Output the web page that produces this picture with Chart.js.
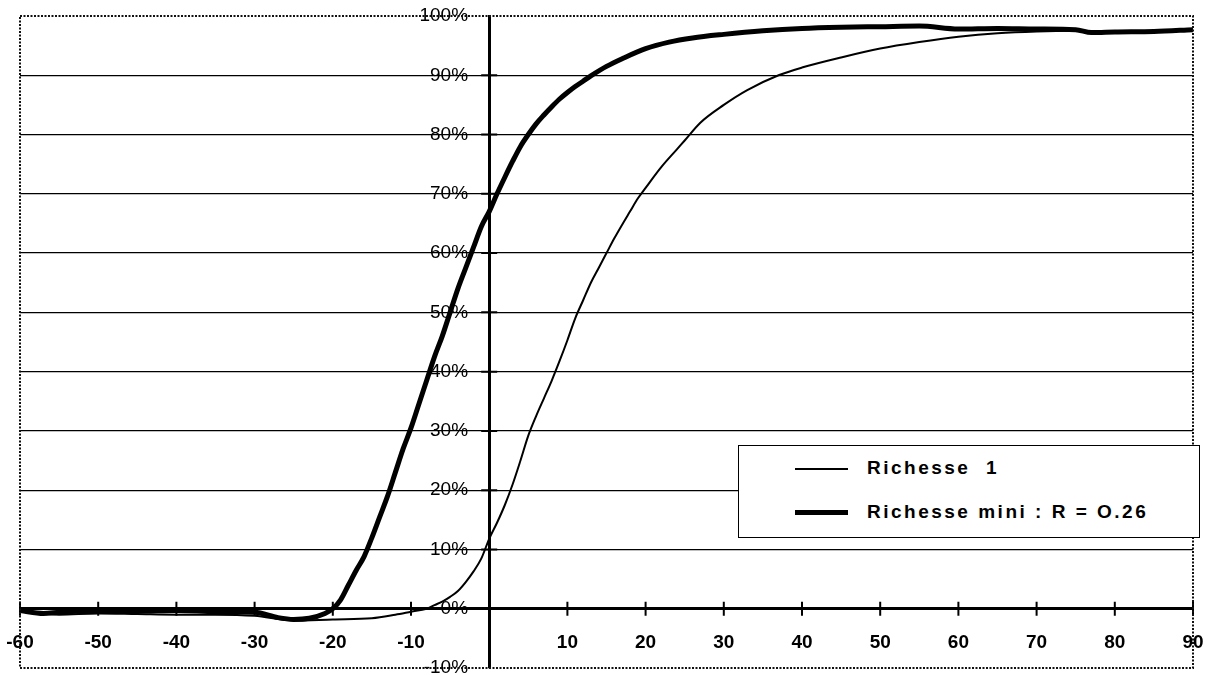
<!DOCTYPE html>
<html>
<head>
<meta charset="utf-8">
<script src="https://cdn.jsdelivr.net/npm/chart.js@4.4.1/dist/chart.umd.min.js"></script>
<style>
    html, body { margin: 0; padding: 0; background: #fff; }
    #wrap { position: relative; width: 1213px; height: 675px; }
    #legendBox {
        position: absolute; left: 738px; top: 445px; width: 462px; height: 93px;
        box-sizing: border-box; border: 1.5px solid #000; background: #fff;
        font: bold 19px "Liberation Sans", Arial, Helvetica, sans-serif; letter-spacing: 2.5px; color: #000;
    }
    .swatch { position: absolute; left: 56px; width: 53px; background: #000; }
    .label { position: absolute; left: 128px; line-height: 22px; white-space: pre; }
</style>
</head>
<body>
<div id="wrap">
    <canvas id="chart" width="1213" height="675"></canvas>
    <div id="legendBox">
        <div class="swatch" style="top:22px;height:2px;"></div>
        <div class="label" style="top:11px;">Richesse  1</div>
        <div class="swatch" style="top:64px;height:5px;"></div>
        <div class="label" style="top:55px;">Richesse mini : R = O.26</div>
    </div>
</div>
<script>
// x axis (degrees) and y axis (%) ticks
const xTicks = [-60, -50, -40, -30, -20, -10, 0, 10, 20, 30, 40, 50, 60, 70, 80, 90];
const yTicks = [-10, 0, 10, 20, 30, 40, 50, 60, 70, 80, 90, 100];

// Richesse 1 (thin line)
const richesse1X = [-60, -55, -50, -45, -40, -35, -30, -25, -20, -15, -12, -10, -8, -7, -6, -5, -4, -3, -2, -1,
    0, 1, 2, 3, 4, 5, 6, 7, 8, 9, 10, 11, 12, 13, 14, 15, 16, 17, 18, 19, 20, 22, 24, 25, 27, 30, 33, 37, 40,
    45, 50, 55, 60, 65, 70, 75, 80, 85, 90];
const richesse1Y = [-0.3, -1.0, -0.8, -0.9, -1.0, -1.0, -1.2, -2.0, -1.8, -1.6, -1.0, -0.5, 0, 0.6, 1.2, 2.0, 3.0, 4.5, 6.3, 8.5,
    11.8, 14.5, 17.5, 21, 25, 29.2, 32.5, 35.5, 38.5, 41.8, 45.3, 49, 52, 55, 57.5, 60, 62.5, 64.8, 67, 69.2, 71, 74.5, 77.5, 79, 82, 85, 87.5, 90, 91.3,
    93, 94.5, 95.6, 96.5, 97.1, 97.4, 97.5, 97.4, 97.4, 97.7];

// Richesse mini : R = 0.26 (thick line)
const richesseMiniX = [-60, -57, -55, -52, -50, -45, -40, -35, -30, -27, -25, -23, -21, -20, -19, -18, -17, -16, -15, -14, -13, -12, -11,
    -10, -9, -8, -7, -6, -5, -4, -3, -2, -1, 0, 1, 2, 3, 4, 5, 6, 7, 8, 9, 10, 11, 12, 13, 15, 17, 20, 23, 26, 30,
    35, 40, 45, 50, 55, 60, 65, 70, 75, 77, 80, 85, 90];
const richesseMiniY = [-0.3, -0.8, -0.6, -0.4, -0.3, -0.4, -0.3, -0.5, -0.6, -1.5, -1.8, -1.6, -0.8, 0, 1.5, 4, 6.5, 8.8, 12, 15.5, 19, 23, 27,
    30.5, 34.5, 38.5, 42.5, 46, 50, 54, 57.5, 61, 64.5, 67, 70, 72.8, 75.5, 78, 80, 81.8, 83.3, 84.7, 86, 87.1, 88.1, 89, 89.9, 91.5, 92.8, 94.5, 95.6, 96.3, 96.9,
    97.5, 97.9, 98.1, 98.2, 98.3, 97.8, 97.9, 97.8, 97.7, 97.2, 97.3, 97.4, 97.7];

const toPoints = (xs, ys) => xs.map((x, i) => ({ x: x, y: ys[i] }));

const fontFamily = '"Liberation Sans", Arial, Helvetica, sans-serif';

// axes sit inside the plot, so they must not push the plot area in
function noPadding(scale) {
    scale.paddingLeft = 0;
    scale.paddingRight = 0;
    scale.paddingTop = 0;
    scale.paddingBottom = 0;
}

// dotted frame round the plot area, like the scanned original
const framePlugin = {
    id: "frame",
    beforeDraw(chart) {
        const ctx = chart.ctx;
        ctx.save();
        ctx.fillStyle = "#fff";
        ctx.fillRect(0, 0, chart.width, chart.height);
        ctx.restore();
    },
    afterDraw(chart) {
        const { ctx, chartArea: a } = chart;
        ctx.save();
        ctx.strokeStyle = "#111";
        ctx.lineWidth = 2;
        ctx.setLineDash([2, 1.5]);
        ctx.strokeRect(a.left, a.top, a.right - a.left, a.bottom - a.top);
        ctx.restore();
    }
};

// tick marks crossing both axes
const crossTicksPlugin = {
    id: "crossTicks",
    afterDatasetsDraw(chart) {
        const { ctx, scales } = chart;
        const x0 = scales.x.getPixelForValue(0);
        const y0 = scales.y.getPixelForValue(0);
        ctx.save();
        ctx.strokeStyle = "#000";
        ctx.lineWidth = 2;
        ctx.beginPath();
        xTicks.forEach(v => {
            const px = scales.x.getPixelForValue(v);
            ctx.moveTo(px, y0 - 7);
            ctx.lineTo(px, y0 + 7);
        });
        yTicks.forEach(v => {
            if (v === 100 || v === -10) return;
            const py = scales.y.getPixelForValue(v);
            ctx.moveTo(x0 - 8, py);
            ctx.lineTo(x0 + 8, py);
        });
        ctx.stroke();
        ctx.restore();
    }
};

new Chart(document.getElementById("chart"), {
    type: "line",
    data: {
        datasets: [
            {
                label: "Richesse  1",
                data: toPoints(richesse1X, richesse1Y),
                borderColor: "#000",
                borderWidth: 2,
                pointRadius: 0,
                cubicInterpolationMode: "monotone",
                fill: false
            },
            {
                label: "Richesse mini : R = O.26",
                data: toPoints(richesseMiniX, richesseMiniY),
                borderColor: "#000",
                borderWidth: 5,
                pointRadius: 0,
                cubicInterpolationMode: "monotone",
                fill: false
            }
        ]
    },
    options: {
        responsive: false,
        animation: false,
        layout: { padding: { left: 20, right: 20, top: 16, bottom: 7 } },
        plugins: {
            legend: { display: false },
            tooltip: { enabled: false }
        },
        scales: {
            x: {
                type: "linear",
                min: -60,
                max: 90,
                position: { y: 0 },
                afterBuildTicks: axis => { axis.ticks = xTicks.map(v => ({ value: v })); },
                afterFit: noPadding,
                ticks: {
                    color: "#000",
                    padding: 23,
                    maxRotation: 0,
                    callback: v => (v === 0 ? "" : v),
                    font: { family: fontFamily, size: 19, weight: "bold" }
                },
                grid: { drawOnChartArea: false, drawTicks: false },
                border: { color: "#000", width: 3 }
            },
            y: {
                type: "linear",
                min: -10,
                max: 100,
                position: { x: 0 },
                afterBuildTicks: axis => { axis.ticks = yTicks.map(v => ({ value: v })); },
                afterFit: noPadding,
                ticks: {
                    color: "#000",
                    // labels of an axis placed at x = 0 are drawn flush to it; trailing spaces leave the gap
                    callback: v => v + "%    ",
                    font: { family: fontFamily, size: 19 }
                },
                grid: {
                    drawTicks: false,
                    lineWidth: 1.3,
                    color: ctx => (ctx.tick && (ctx.tick.value === 100 || ctx.tick.value === -10)) ? "rgba(0,0,0,0)" : "#000"
                },
                border: { color: "#000", width: 3 }
            }
        }
    },
    plugins: [framePlugin, crossTicksPlugin]
});
</script>
</body>
</html>
